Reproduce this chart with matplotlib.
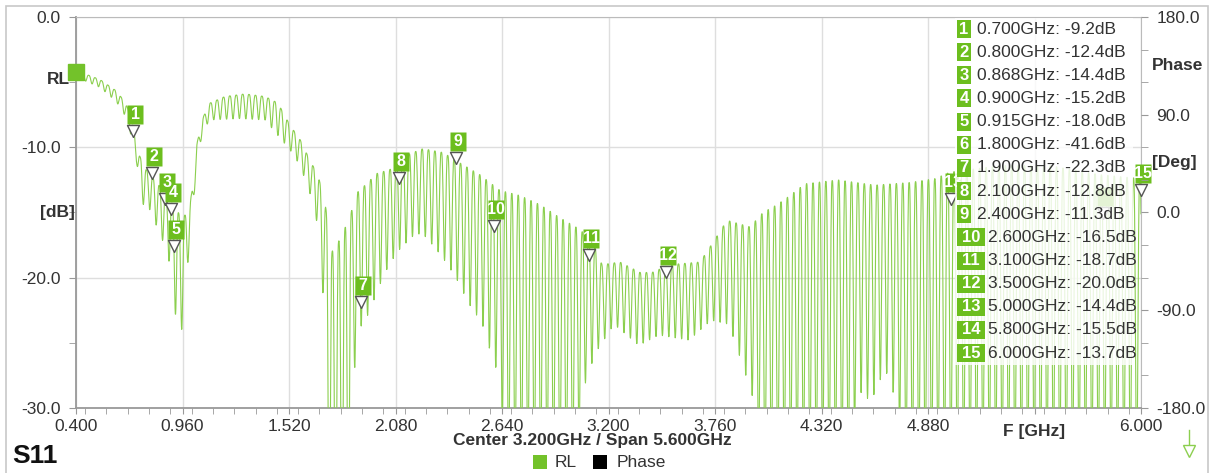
import numpy as np
import matplotlib
matplotlib.use("Agg")
import matplotlib.pyplot as plt
from matplotlib.patches import Rectangle
from matplotlib.ticker import MultipleLocator, FixedLocator

plt.rcParams['font.family'] = ['Liberation Sans', 'DejaVu Sans']

# upper envelope of the S11 ripple (GHz, dB)
up_f = [0.400, 0.526, 0.605, 0.658, 0.694, 0.721, 0.763, 0.815, 0.878, 0.947, 0.989,
        1.015, 1.036, 1.068, 1.105, 1.183, 1.289, 1.394, 1.462, 1.525, 1.578, 1.630,
        1.672, 1.709, 1.746, 1.778, 1.814, 1.851, 1.883, 1.920, 1.983, 2.051, 2.119,
        2.225, 2.330, 2.419, 2.524, 2.629, 2.735, 2.840, 2.945, 3.050, 3.118, 3.166,
        3.260, 3.366, 3.429, 3.523, 3.681, 3.749, 3.823, 3.944, 4.012, 4.086, 4.154,
        4.233, 4.407, 4.601, 4.785, 4.917, 4.996, 5.259, 5.522, 5.785, 6.000]
up_db = [-4.1, -4.8, -5.6, -6.5, -7.8, -10.2, -11.6, -12.5, -13.7, -15.2, -15.2,
         -12.9, -9.7, -7.7, -6.6, -6.1, -5.9, -6.1, -6.6, -8.3, -9.4, -11.0,
         -12.1, -14.2, -18.0, -17.3, -16.2, -14.8, -13.4, -12.9, -12.0, -11.7, -10.7,
         -10.1, -10.4, -11.2, -12.1, -13.3, -13.7, -14.4, -15.4, -16.3, -17.3, -19.0,
         -18.8, -19.6, -19.6, -19.0, -18.8, -17.3, -15.6, -16.1, -15.0, -14.4, -13.7,
         -12.8, -12.5, -12.9, -12.7, -12.4, -11.9, -11.4, -11.4, -12.1, -12.4]

# lower envelope (dips), values below -30 run off the chart
lo_f = [0.400, 0.526, 0.605, 0.642, 0.673, 0.694, 0.721, 0.747, 0.789, 0.842, 0.878,
        0.905, 0.936, 0.963, 0.989, 1.015, 1.036, 1.068, 1.105, 1.262, 1.394, 1.462,
        1.525, 1.578, 1.615, 1.657, 1.688, 1.709, 1.730, 1.835, 1.851, 1.888, 1.941,
        1.993, 2.046, 2.098, 2.188, 2.240, 2.325, 2.398, 2.466, 2.535, 2.587, 2.624,
        2.661, 3.024, 3.082, 3.140, 3.229, 3.360, 3.465, 3.623, 3.739, 3.833, 3.896,
        3.959, 3.996, 4.060, 4.475, 4.512, 4.580, 4.654, 4.700, 4.765, 5.000, 6.000]
lo_db = [-4.6, -5.4, -6.4, -7.1, -8.1, -9.4, -11.4, -14.3, -14.8, -16.7, -17.9,
         -20.0, -25.0, -23.6, -18.8, -14.8, -11.0, -8.7, -7.9, -7.8, -7.9, -9.1,
         -10.2, -11.4, -12.9, -14.7, -18.6, -24.0, -41.6, -41.6, -28.9, -24.0, -22.7,
         -20.7, -19.0, -17.9, -16.6, -16.9, -18.4, -20.0, -22.0, -23.5, -26.1, -27.6,
         -35.0, -35.0, -27.7, -25.6, -23.6, -25.2, -24.4, -24.8, -23.3, -23.6, -26.3,
         -29.2, -35.0, -35.0, -35.0, -28.6, -29.5, -27.0, -29.0, -35.0, -35.0, -35.0]
ripple_ghz = 0.0337

# markers
mk_num = list(range(1, 16))
mk_f = [0.700, 0.800, 0.868, 0.900, 0.915, 1.800, 1.900, 2.100, 2.400, 2.600,
        3.100, 3.500, 5.000, 5.800, 6.000]
mk_db = [-9.2, -12.4, -14.4, -15.2, -18.0, -41.6, -22.3, -12.8, -11.3, -16.5,
         -18.7, -20.0, -14.4, -15.5, -13.7]

green = '#6cbe1e'
trace_c = '#8bcf4e'
W, H = 1211, 473

fig = plt.figure(figsize=(W / 100, H / 100), dpi=100)
ax = fig.add_axes([76 / W, 1 - 408 / H, 1065 / W, 391 / H])


def fx(x):
    return x / W


def fy(y):
    return 1 - y / H


# trace: ripple between the two read envelopes
f = np.linspace(0.4, 6.0, 4000)
ph = 2 * np.pi * (f - 0.4) / ripple_ghz
s = 1 - ((1 - np.cos(ph)) / 2) ** 1.6
top = np.interp(f, up_f, up_db)
bot = np.interp(f, lo_f, lo_db)
ax.plot(f, bot + (top - bot) * s, color=trace_c, lw=0.8, zorder=3)

ax.set_xlim(0.4, 6.0)
ax.set_ylim(-30, 0)
xt = [0.4 + 0.56 * i for i in range(11)]
ax.xaxis.set_major_locator(FixedLocator(xt))
ax.set_xticklabels(['' if abs(v - 5.44) < 1e-6 else '%.3f' % v for v in xt])
ax.xaxis.set_minor_locator(MultipleLocator(0.112))
ax.yaxis.set_major_locator(MultipleLocator(10))
ax.yaxis.set_minor_locator(MultipleLocator(5))
ax.yaxis.set_major_formatter(matplotlib.ticker.FormatStrFormatter('%.1f'))
ax.grid(True, color='#dedede', lw=1)
ax.tick_params(axis='both', which='both', colors='#999999', labelcolor='#333333',
               labelsize=12.5)
ax.tick_params(axis='y', which='both', length=5, pad=6)
ax.tick_params(axis='x', which='both', length=4, pad=4)
for sp in ax.spines.values():
    sp.set_color('#bbbbbb')
ax.spines['left'].set_color('#999999')
ax.spines['bottom'].set_color('#999999')
ax.spines['left'].set_linewidth(1.3)
ax.spines['bottom'].set_linewidth(1.3)

ax2 = ax.twinx()
ax2.set_ylim(-180, 180)
ax2.yaxis.set_major_locator(MultipleLocator(90))
ax2.yaxis.set_minor_locator(MultipleLocator(30))
ax2.yaxis.set_major_formatter(matplotlib.ticker.FormatStrFormatter('%.1f'))
ax2.tick_params(axis='y', which='both', colors='#999999', labelcolor='#333333',
                labelsize=12.5, length=5, pad=6)
for sp in ax2.spines.values():
    sp.set_visible(False)

ax.text(5.44, -31.2, 'F [GHz]', ha='center', va='top', fontsize=12.5,
        fontweight='bold', color='#333333')

# reference level square
ax.plot([0.4], [-4.2], marker='s', ms=11.5, color='#73c22a', clip_on=False, zorder=6)

# marker shapes in pixel units, tip at the data point
tri = np.array([(0, 0), (-6, 12), (6, 12), (0, 0)])
box = np.array([(-6, 13), (10, 13), (10, 32), (-6, 32), (-6, 13)])
for n, mf, md in zip(mk_num, mk_f, mk_db):
    if md < -30:
        continue
    ax.plot([mf], [md], marker=box, ms=2 * 32 * 0.72, mfc=green, mec='none',
            ls='none', zorder=5, clip_on=False)
    ax.plot([mf], [md], marker=tri, ms=2 * 12 * 0.72, mfc='white', mec='#555555',
            mew=1, ls='none', zorder=5, clip_on=False)
    if n == 14:
        continue  # sits under the marker table
    ax.annotate(str(n), (mf, md), xytext=(2, 22.5), textcoords='offset pixels',
                ha='center', va='center', color='white', fontsize=11.5,
                fontweight='bold', zorder=6, annotation_clip=False)

# marker table
fig.patches.append(Rectangle((fx(955), fy(365)), 178 / W, 347 / H, transform=fig.transFigure,
                             fc='white', ec='none', alpha=0.82, zorder=7))
for i, (n, mf, md) in enumerate(zip(mk_num, mk_f, mk_db)):
    y = 29 + i * 23.15
    bw = 14 if n < 10 else 28
    fig.patches.append(Rectangle((fx(957), fy(y + 9)), bw / W, 18 / H,
                                 transform=fig.transFigure, fc=green, ec='none', zorder=8))
    fig.text(fx(957 + bw / 2), fy(y), str(n), ha='center', va='center', color='white',
             fontsize=12, fontweight='bold', zorder=9)
    txt = '%.3fGHz: %.1fdB' % (mf, md)
    if n < 10:
        fig.text(fx(977), fy(y), txt, ha='left', va='center', fontsize=12.5,
                 color='#333333', zorder=9)
    else:
        fig.text(fx(1137), fy(y), txt, ha='right', va='center', fontsize=12.5,
                 color='#333333', zorder=9)

# axis captions
fig.text(fx(70), fy(80), 'RL', ha='right', va='center', fontsize=12.5, fontweight='bold', color='#333333')
fig.text(fx(75), fy(212), '[dB]', ha='right', va='center', fontsize=12.5, fontweight='bold', color='#333333')
fig.text(fx(1152), fy(65), 'Phase', ha='left', va='center', fontsize=12.5, fontweight='bold', color='#333333')
fig.text(fx(1152), fy(162), '[Deg]', ha='left', va='center', fontsize=12.5, fontweight='bold', color='#333333')
fig.text(fx(592), fy(440), 'Center 3.200GHz / Span 5.600GHz', ha='center', va='center',
         fontsize=12.5, fontweight='bold', color='#333333')
fig.text(fx(12), fy(456), 'S11', ha='left', va='center', fontsize=19, fontweight='bold', color='#111111')

# legend
fig.patches.append(Rectangle((fx(533), fy(469)), 14 / W, 14 / H, transform=fig.transFigure,
                             fc='#73c22a', ec='none'))
fig.text(fx(555), fy(462), 'RL', ha='left', va='center', fontsize=12.5, color='#333333')
fig.patches.append(Rectangle((fx(593), fy(469)), 14 / W, 14 / H, transform=fig.transFigure,
                             fc='black', ec='none'))
fig.text(fx(617), fy(462), 'Phase', ha='left', va='center', fontsize=12.5, color='#333333')

# small scroll arrow at lower right
fig.add_artist(plt.Line2D([fx(1189), fx(1189)], [fy(430), fy(447)], color='#8ccf4f', lw=1))
fig.add_artist(plt.Line2D([fx(1189)], [fy(451)], marker='v', ms=9, mfc='white', mec='#8ccf4f'))

# outer frame
fig.patches.append(Rectangle((fx(6), fy(490)), 1202 / W, 484 / H, transform=fig.transFigure,
                             fc='none', ec='#c8c8c8', lw=1.2))

fig.savefig('out.png', dpi=100)
